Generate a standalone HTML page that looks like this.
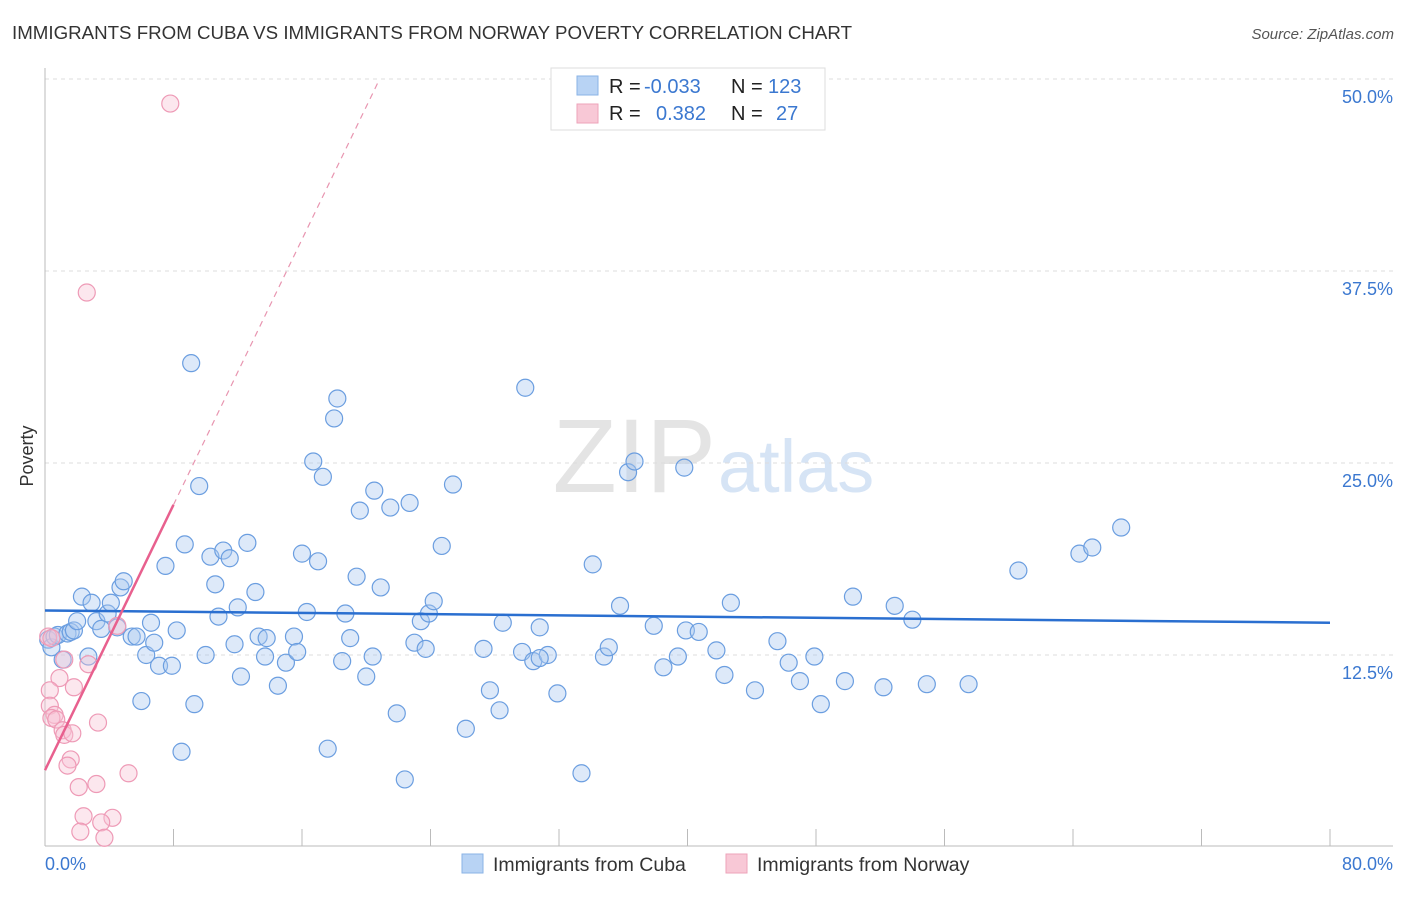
<!DOCTYPE html>
<html><head><meta charset="utf-8"><style>
body{margin:0;background:#fff;font-family:"Liberation Sans",sans-serif;}
svg text{font-family:"Liberation Sans",sans-serif;}
</style></head><body>
<svg id="chart" width="1406" height="892">
<text x="12" y="39" font-size="18" fill="#333" textLength="840" lengthAdjust="spacingAndGlyphs">IMMIGRANTS FROM CUBA VS IMMIGRANTS FROM NORWAY POVERTY CORRELATION CHART</text>
<text x="1394" y="39" font-size="15" fill="#555" font-style="italic" text-anchor="end">Source: ZipAtlas.com</text>
<text x="716" y="492" font-size="105" fill="#e4e4e4" text-anchor="end" font-family="Liberation Serif">ZIP</text>
<text x="718" y="492" font-size="74" fill="#d6e4f5">atlas</text>
<g id="grid"></g><g id="axes"></g><g id="marks"></g>
<text transform="translate(33,456) rotate(-90)" font-size="18" fill="#333" text-anchor="middle">Poverty</text>
<g>
<rect x="551" y="68" width="274" height="62" fill="#fff" stroke="#ddd"/>
<rect x="577" y="76" width="21" height="19" fill="#b8d3f4" stroke="#8ab3e6"/>
<rect x="577" y="104" width="21" height="19" fill="#f8c8d6" stroke="#eea3ba"/>
<text x="609" y="93" font-size="20" fill="#222">R = <tspan fill="#3b78d0" x="644">-0.033</tspan></text>
<text x="731" y="93" font-size="20" fill="#222">N = <tspan fill="#3b78d0" x="768">123</tspan></text>
<text x="609" y="120" font-size="20" fill="#222">R = <tspan fill="#3b78d0" x="656">0.382</tspan></text>
<text x="731" y="120" font-size="20" fill="#222">N = <tspan fill="#3b78d0" x="776">27</tspan></text>
</g>
<g>
<rect x="462" y="854" width="21" height="19" fill="#b8d3f4" stroke="#8ab3e6"/>
<text x="493" y="871" font-size="19.5" fill="#333">Immigrants from Cuba</text>
<rect x="726" y="854" width="21" height="19" fill="#f8c8d6" stroke="#eea3ba"/>
<text x="757" y="871" font-size="19.5" fill="#333">Immigrants from Norway</text>
</g>
</svg>
<script>
const cubaX=[0.2,0.4,0.6,0.8,1.1,1.4,1.6,1.8,2.0,2.3,2.7,2.9,3.2,3.5,3.9,4.1,4.5,4.7,4.9,5.4,5.7,6.0,6.3,6.6,6.8,7.1,7.5,7.9,8.2,8.5,8.7,9.3,9.6,9.1,10.0,10.3,10.6,10.8,11.1,11.5,11.8,12.0,12.2,12.6,13.1,13.3,13.7,13.8,14.5,15.0,15.5,15.7,16.0,16.3,16.7,17.0,17.3,17.6,18.0,18.2,18.5,18.7,19.0,19.4,19.6,20.0,20.4,20.5,20.9,21.5,21.9,22.4,22.7,23.0,23.4,23.7,23.9,24.2,24.7,25.4,26.2,27.3,27.7,28.3,28.5,29.7,29.9,30.4,30.8,31.3,31.9,33.4,34.1,34.8,35.1,35.8,36.3,36.7,37.9,38.5,39.4,39.8,39.9,40.7,41.8,42.3,42.7,44.2,45.6,46.3,47.0,47.9,48.3,49.8,50.3,52.2,52.9,54.0,54.9,57.5,60.6,64.4,65.2,67.0,30.8];
const cubaY=[13.5,13.0,13.7,13.8,12.2,13.9,14.0,14.1,14.7,16.3,12.4,15.9,14.7,14.2,15.2,15.9,14.3,16.9,17.3,13.7,13.7,9.5,12.5,14.6,13.3,11.8,18.3,11.8,14.1,6.2,19.7,9.3,23.5,31.5,12.5,18.9,17.1,15.0,19.3,18.8,13.2,15.6,11.1,19.8,16.6,13.7,12.4,13.6,10.5,12.0,13.7,12.7,19.1,15.3,25.1,18.6,24.1,6.4,27.9,29.2,12.1,15.2,13.6,17.6,21.9,11.1,12.4,23.2,16.9,22.1,8.7,4.4,22.4,13.3,14.7,12.9,15.2,16.0,19.6,23.6,7.7,12.9,10.2,8.9,14.6,12.7,29.9,12.1,14.3,12.5,10.0,4.8,18.4,12.4,13.0,15.7,24.4,25.1,14.4,11.7,12.4,24.7,14.1,14.0,12.8,11.2,15.9,10.2,13.4,12.0,10.8,12.4,9.3,10.8,16.3,10.4,15.7,14.8,10.6,10.6,18.0,19.1,19.5,20.8,12.3];
const norX=[7.8,2.6,0.2,0.4,1.2,2.7,0.9,0.3,1.8,0.3,0.6,0.4,0.7,1.1,1.2,1.7,3.3,1.6,1.4,2.1,3.2,5.2,2.4,4.2,3.5,2.2,3.7,4.5];
const norY=[48.4,36.1,13.7,13.6,12.2,11.9,11.0,10.2,10.4,9.2,8.6,8.4,8.3,7.6,7.3,7.4,8.1,5.7,5.3,3.9,4.1,4.8,2.0,1.9,1.6,1.0,0.6,14.4];
const cubaTrend=[15.4,14.6]; // y at x=0 and x=80
const norTrend=[5.0,2.16]; // intercept, slope
const yTicks=[12.5,25.0,37.5,50.0];
const xTicks=[0,8,16,24,32,40,48,56,64,72,80];
const NS="http://www.w3.org/2000/svg";
const sx=v=>45+v*1285/80, sy=v=>847-v*192/12.5;
function mk(t,a,p){const e=document.createElementNS(NS,t);for(const k in a)e.setAttribute(k,a[k]);p.appendChild(e);return e;}
const grid=document.getElementById('grid'),axes=document.getElementById('axes'),marks=document.getElementById('marks');
yTicks.forEach(v=>{const l=mk('line',{x1:45,x2:1393,y1:sy(v),y2:sy(v),stroke:'#ddd','stroke-dasharray':'4,4'},grid);


const t=mk('text',{x:1393,y:sy(v)+24,'font-size':18,fill:'#3b78d0','text-anchor':'end'},axes);t.textContent=v.toFixed(1)+'%';

});
mk('line',{x1:45,x2:45,y1:68,y2:846,stroke:'#bbb'},axes);
mk('line',{x1:45,x2:1393,y1:846,y2:846,stroke:'#bbb'},axes);
xTicks.forEach(v=>{const l=mk('line',{x1:sx(v),x2:sx(v),y1:829,y2:846,stroke:'#bbb'},axes);

});
let t=mk('text',{x:45,y:870,'font-size':18,fill:'#3b78d0'},axes);t.textContent='0.0%';


t=mk('text',{x:1393,y:870,'font-size':18,fill:'#3b78d0','text-anchor':'end'},axes);t.textContent='80.0%';


cubaX.forEach((x,i)=>{const c=mk('circle',{cx:sx(x),cy:sy(cubaY[i]),r:8.5,fill:'rgba(170,200,240,0.4)',stroke:'#6b9ee0','stroke-width':1.2},marks);

});
norX.forEach((x,i)=>{const c=mk('circle',{cx:sx(x),cy:sy(norY[i]),r:8.5,fill:'rgba(248,195,212,0.4)',stroke:'#ee9ab6','stroke-width':1.2},marks);

});
let l=mk('line',{x1:sx(0),y1:sy(cubaTrend[0]),x2:sx(80),y2:sy(cubaTrend[1]),stroke:'#2a6fd0','stroke-width':2.5},marks);


const xe=(50-norTrend[0])/norTrend[1];
l=mk('line',{x1:sx(8),y1:sy(norTrend[0]+8*norTrend[1]),x2:sx(xe),y2:sy(50),stroke:'#e895b0','stroke-width':1.2,'stroke-dasharray':'6,5'},marks);


l=mk('line',{x1:sx(0),y1:sy(norTrend[0]),x2:sx(8),y2:sy(norTrend[0]+8*norTrend[1]),stroke:'#e8608e','stroke-width':2.5},marks);


</script>
</body></html>
